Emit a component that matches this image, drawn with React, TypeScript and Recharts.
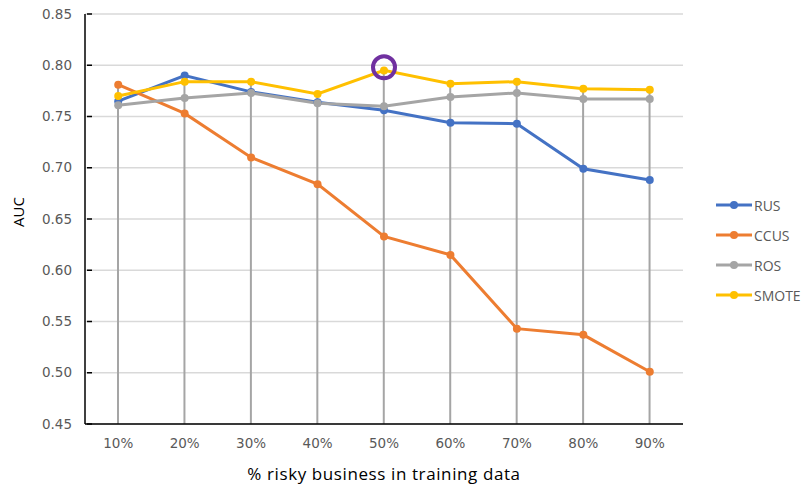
import React from 'react';
import { ComposedChart, Line, Bar, XAxis, YAxis, CartesianGrid, Legend, ReferenceDot, Label } from 'recharts';

const categories = ['10%', '20%', '30%', '40%', '50%', '60%', '70%', '80%', '90%'];
const rus = [0.765, 0.790, 0.774, 0.764, 0.756, 0.744, 0.743, 0.699, 0.688];
const ccus = [0.781, 0.753, 0.710, 0.684, 0.633, 0.615, 0.543, 0.537, 0.501];
const ros = [0.761, 0.768, 0.773, 0.763, 0.760, 0.769, 0.773, 0.767, 0.767];
const smote = [0.770, 0.784, 0.784, 0.772, 0.795, 0.782, 0.784, 0.777, 0.776];
const yTicks = [0.45, 0.5, 0.55, 0.6, 0.65, 0.7, 0.75, 0.8, 0.85];
const highlightCategory = '50%';
const highlightValue = 0.798;

const series = [
  { key: 'RUS', values: rus, color: '#4472C4' },
  { key: 'CCUS', values: ccus, color: '#ED7D31' },
  { key: 'ROS', values: ros, color: '#A5A5A5' },
  { key: 'SMOTE', values: smote, color: '#FFC000' },
];

const data = categories.map((c, i) => {
  const row: any = { cat: c };
  series.forEach((s) => (row[s.key] = s.values[i]));
  row.drop = Math.max(...series.map((s) => s.values[i]));
  return row;
});

const YTick = (props: any) => {
  const { x, y, payload } = props;
  return (
    <g>
      <line x1={x + 10} x2={x + 15} y1={y} y2={y} stroke="#000" strokeWidth={1.5} />
      <text x={x - 5} y={y} dy="0.35em" textAnchor="end" fill="#595959" fontSize={13.5} fontFamily="DejaVu Sans">
        {payload.value.toFixed(2)}
      </text>
    </g>
  );
};

const LegendContent = () => (
  <div style={{ fontFamily: 'Open Sans', fontSize: 14, color: '#595959' }}>
    {series.map((s) => (
      <div key={s.key} style={{ display: 'flex', alignItems: 'center', height: 30 }}>
        <svg width={40} height={10}>
          <line x1={2} x2={38} y1={5} y2={5} stroke={s.color} strokeWidth={3} />
          <circle cx={20} cy={5} r={4} fill={s.color} />
        </svg>
        <span>{s.key}</span>
      </div>
    ))}
  </div>
);

export default function App() {
  return (
    <div style={{ position: 'absolute', left: 0, top: 0, background: '#fff' }}>
      <ComposedChart width={804} height={486} data={data} margin={{ top: 14, right: 121, left: 0, bottom: 0 }}>
        <CartesianGrid vertical={false} stroke="#D9D9D9" strokeWidth={1.5} />
        <XAxis
          dataKey="cat"
          height={62}
          tickLine={false}
          tickMargin={8}
          stroke="#000"
          strokeWidth={1.5}
          tick={{ fill: '#595959', fontSize: 13.5, fontFamily: 'DejaVu Sans' }}
        >
          <Label
            value="% risky business in training data"
            position="insideBottom"
            offset={6}
            fill="#000"
            fontSize={17}
            fontFamily="Open Sans"
            style={{ letterSpacing: '0.6px' }}
          />
        </XAxis>
        <YAxis
          width={85}
          domain={[0.45, 0.85]}
          ticks={yTicks}
          tickLine={false}
          stroke="#000"
          strokeWidth={1.5}
          tick={<YTick />}
        >
          <Label
            content={(p: any) => (
              <text
                x={19}
                y={p.viewBox.y + p.viewBox.height / 2 - 7}
                transform={`rotate(-90, 19, ${p.viewBox.y + p.viewBox.height / 2 - 7})`}
                textAnchor="middle"
                dy="0.35em"
                fill="#000"
                fontSize={15}
                fontFamily="Open Sans"
              >
                AUC
              </text>
            )}
          />
        </YAxis>
        <Bar dataKey="drop" barSize={2} fill="#A5A5A5" isAnimationActive={false} legendType="none" />
        {series.map((s) => (
          <Line
            key={s.key}
            dataKey={s.key}
            stroke={s.color}
            strokeWidth={3}
            dot={{ r: 4, fill: s.color, stroke: s.color, strokeWidth: 0 }}
            activeDot={false}
            isAnimationActive={false}
          />
        ))}
        <ReferenceDot x={highlightCategory} y={highlightValue} r={11} fill="none" stroke="#7030A0" strokeWidth={4} />
        <Legend
          layout="vertical"
          align="center"
          verticalAlign="middle"
          content={<LegendContent />}
          wrapperStyle={{ position: 'absolute', left: 714, top: 190, width: 90 }}
        />
      </ComposedChart>
    </div>
  );
}
